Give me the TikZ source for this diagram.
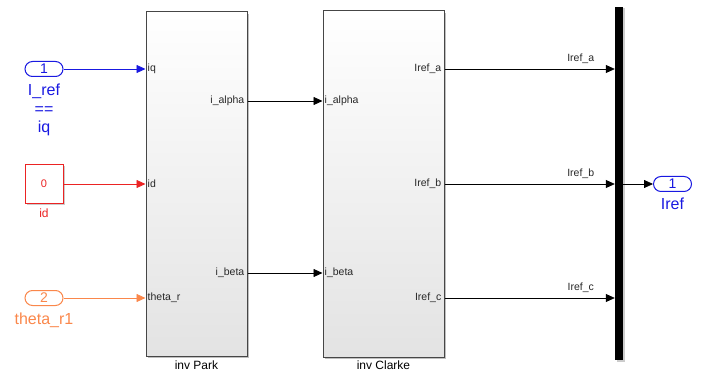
\documentclass[tikz,border=0pt]{standalone}
\usepackage{fontspec}
\setmainfont{Liberation Sans}
\usetikzlibrary{arrows.meta,shadows,positioning}
\definecolor{blau}{RGB}{25,25,225}
\definecolor{rot}{RGB}{235,35,35}
\definecolor{orangerot}{RGB}{250,135,75}
\definecolor{rahmen}{RGB}{70,70,70}
\definecolor{schrift}{RGB}{40,40,40}

\tikzset{
  block/.style={draw=rahmen, line width=1pt, top color=white, bottom color=gray!22,
    drop shadow={shadow xshift=2pt, shadow yshift=-2pt, opacity=0.5}, inner sep=0pt},
  pille/.style={draw, line width=1pt, fill=white, rounded corners=7.5pt,
    minimum width=38pt, minimum height=15pt, inner sep=0pt, font=\fontsize{14}{14}\selectfont},
  portlabel/.style={text=schrift, inner sep=0pt, font=\fontsize{10.5}{10.5}\selectfont},
  signal/.style={line width=0.8pt, ->},
  gross/.style={inner sep=1pt, align=center, font=\fontsize{16}{18.5}\selectfont},
}

\begin{document}
\begin{tikzpicture}[x=1pt, y=-1pt, >={Triangle[length=9pt,width=8pt]}]
    \useasboundingbox (0,0) rectangle (704,374);

    % Eingaenge
    \node[pille, draw=blau, text=blau] (in1) at (44,69) {1};
    \node[gross, text=blau, below=6pt of in1] (in1text) {I\_ref\\==\\iq};
    \node[draw=rot, text=rot, line width=1pt, fill=white, minimum width=38pt, minimum height=39pt,
      drop shadow={shadow xshift=1.5pt, shadow yshift=-1.5pt, opacity=0.4},
      font=\fontsize{11}{11}\selectfont] (konst) at (44,184) {0};
    \node[text=rot, below=1pt of konst, font=\fontsize{12}{12}\selectfont] (konsttext) {id};
    \node[pille, draw=orangerot, text=orangerot] (in2) at (44,298) {2};
    \node[gross, text=orangerot, below=6pt of in2] (in2text) {theta\_r1};

    % Bloecke
    \node[block, minimum width=101pt, minimum height=344pt] (park) at (196.5,184) {};
    \node[below=1pt of park, font=\fontsize{12}{12}\selectfont] (parktext) {inv Park};
    \node[block, minimum width=121pt, minimum height=346pt] (clarke) at (383.5,184) {};
    \node[below=0pt of clarke, font=\fontsize{12}{12}\selectfont] (clarketext) {inv Clarke};
    \node[fill=black, minimum width=8pt, minimum height=353pt, inner sep=0pt,
      drop shadow={shadow xshift=1.5pt, shadow yshift=-1.5pt, opacity=0.4}] (mux) at (619,183.5) {};

    % Ports inv Park
    \node[portlabel, anchor=west] (p-iq) at ([xshift=2pt]park.west |- in1) {iq};
    \node[portlabel, anchor=west] (p-id) at ([xshift=2pt]park.west |- konst) {id};
    \node[portlabel, anchor=west] (p-theta) at ([xshift=2pt]park.west |- in2) {theta\_r};
    \node[portlabel, anchor=east] (p-alpha) at ([xshift=-3pt]park.east |- 0,101) {i\_alpha};
    \node[portlabel, anchor=east] (p-beta) at ([xshift=-3pt]park.east |- 0,273) {i\_beta};

    % Ports inv Clarke
    \node[portlabel, anchor=west] (c-alpha) at ([xshift=2pt]clarke.west |- p-alpha) {i\_alpha};
    \node[portlabel, anchor=west] (c-beta) at ([xshift=2pt]clarke.west |- p-beta) {i\_beta};
    \node[portlabel, anchor=east] (c-a) at ([xshift=-3pt]clarke.east |- in1) {Iref\_a};
    \node[portlabel, anchor=east] (c-b) at ([xshift=-3pt]clarke.east |- konst) {Iref\_b};
    \node[portlabel, anchor=east] (c-c) at ([xshift=-3pt]clarke.east |- in2) {Iref\_c};

    % Ausgang
    \node[pille, draw=blau, text=blau] (out1) at (672.5,184) {1};
    \node[gross, text=blau, below=5pt of out1] (out1text) {Iref};

    % Signale
    \draw[signal, blau] (in1.east) -- (in1.east -| park.west);
    \draw[signal, rot] (konst.east) -- (konst.east -| park.west);
    \draw[signal, orangerot] (in2.east) -- (in2.east -| park.west);
    \draw[signal] (p-alpha.east -| park.east) -- (p-alpha.east -| clarke.west);
    \draw[signal] (p-beta.east -| park.east) -- (p-beta.east -| clarke.west);
    \draw[signal] (c-a.east -| clarke.east) -- (c-a.east -| mux.west)
      node[portlabel, pos=0.8, above=5pt] {Iref\_a};
    \draw[signal] (c-b.east -| clarke.east) -- (c-b.east -| mux.west)
      node[portlabel, pos=0.8, above=5pt] {Iref\_b};
    \draw[signal] (c-c.east -| clarke.east) -- (c-c.east -| mux.west)
      node[portlabel, pos=0.8, above=5pt] {Iref\_c};
    \draw[signal] (mux.east |- out1) -- (out1.west);
\end{tikzpicture}
\end{document}
